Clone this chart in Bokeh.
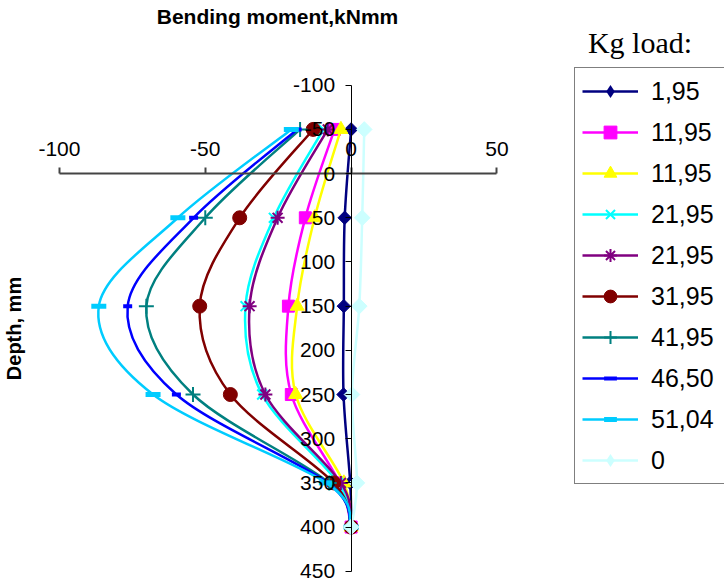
import numpy as np
from bokeh.plotting import figure
from bokeh.models import Range1d, FixedTicker, Legend, LegendItem, Label
from bokeh.embed import file_html
from bokeh.resources import INLINE

# ---------------- data ----------------
depth = [-50, 50, 150, 250, 350, 400]
series_labels = ["1,95", "11,95", "11,95", "21,95", "21,95",
                 "31,95", "41,95", "46,50", "51,04", "0"]
m_1_95 = [0.0, -2.2, -2.5, -2.6, -0.3, 0.0]
m_11_95a = [-5.7, -15.7, -21.5, -20.5, -4.0, 0.0]
m_11_95b = [-3.5, -12.5, -18.5, -19.0, -2.5, 0.0]
m_21_95a = [-9.5, -26.5, -36.2, -30.5, -4.5, 0.0]
m_21_95b = [-8.0, -25.2, -34.8, -29.4, -3.5, 0.0]
m_31_95 = [-13.0, -38.2, -51.9, -41.4, -6.0, 0.0]
m_41_95 = [-17.5, -50.0, -70.2, -54.2, -7.5, 0.0]
m_46_50 = [-18.5, -54.0, -76.6, -59.9, -8.0, 0.0]
m_51_04 = [-20.5, -59.4, -86.5, -67.9, -8.5, 0.0]
m_0 = [4.5, 3.8, 2.8, 0.3, 2.0, 0.0]
x_ticks = [-100, -50, 0, 50]
y_ticks = [-100, -50, 0, 50, 100, 150, 200, 250, 300, 350, 400, 450]

values = [m_1_95, m_11_95a, m_11_95b, m_21_95a, m_21_95b,
          m_31_95, m_41_95, m_46_50, m_51_04, m_0]
colors = ["#000080", "#FF00FF", "#FFFF00", "#00FFFF", "#800080",
          "#800000", "#008080", "#0000FF", "#00CCFF", "#CCFFFF"]
# (marker, size, line_width, angle)
mstyle = [("square", 9.5, 1, np.pi / 4),
          ("square", 12, 1, 0),
          ("triangle", 14, 1, 0),
          ("x", 14, 2, 0),
          ("asterisk", 14, 2, 0),
          ("circle", 14, 1, 0),
          ("cross", 15, 2, 0),
          ("dash", 9, 4, 0),
          ("dash", 15, 5, 0),
          ("square", 11, 1, np.pi / 4)]

W, H = 724, 581
XR = (-120.2, 128.0)
YR_TOP, YR_BOT = -195.9, 461.6


def xd(px):
    return XR[0] + px * (XR[1] - XR[0]) / W


def yd(py):
    return YR_TOP + py * (YR_BOT - YR_TOP) / H


p = figure(width=W, height=H, x_range=Range1d(*XR),
           y_range=Range1d(YR_BOT, YR_TOP),
           x_axis_location="above", y_axis_location="left",
           output_backend="svg", toolbar_location=None, min_border=0)
p.min_border_left = p.min_border_right = 0
p.min_border_top = p.min_border_bottom = 0
p.background_fill_color = "white"
p.border_fill_color = "white"
p.outline_line_color = None
p.xgrid.visible = False
p.ygrid.visible = False

xa = p.xaxis[0]
xa.fixed_location = 0
xa.bounds = (-100, 50)
xa.ticker = FixedTicker(ticks=x_ticks)
xa.major_label_overrides = {t: str(t) for t in x_ticks}
xa.major_tick_in = 0
xa.major_tick_out = 6
xa.minor_tick_line_color = None
xa.axis_line_color = "#444444"
xa.major_tick_line_color = "#444444"
xa.axis_line_width = 2
xa.major_tick_line_width = 2
xa.major_label_standoff = 12
xa.major_label_text_font = "Liberation Sans"
xa.major_label_text_font_size = "21px"
xa.major_label_text_color = "black"

ya = p.yaxis[0]
ya.fixed_location = 0
ya.bounds = (-100, 450)
ya.ticker = FixedTicker(ticks=y_ticks)
ya.major_label_overrides = {t: str(t) for t in y_ticks}
ya.major_tick_in = 0
ya.major_tick_out = 6
ya.minor_tick_line_color = None
ya.axis_line_color = "black"
ya.major_tick_line_color = "black"
ya.major_label_standoff = 10
ya.major_label_text_font = "Liberation Sans"
ya.major_label_text_font_size = "21px"
ya.major_label_text_color = "black"


def smooth_segments(xs, ys):
    pts = list(zip(xs, ys))
    ext = [pts[0]] + pts + [pts[-1]]
    out = {k: [] for k in ["x0", "y0", "x1", "y1", "cx0", "cy0", "cx1", "cy1"]}
    for i in range(len(pts) - 1):
        p0, p1, p2, p3 = ext[i], ext[i + 1], ext[i + 2], ext[i + 3]
        out["x0"].append(p1[0]); out["y0"].append(p1[1])
        out["x1"].append(p2[0]); out["y1"].append(p2[1])
        out["cx0"].append(p1[0] + (p2[0] - p0[0]) / 6)
        out["cy0"].append(p1[1] + (p2[1] - p0[1]) / 6)
        out["cx1"].append(p2[0] - (p3[0] - p1[0]) / 6)
        out["cy1"].append(p2[1] - (p3[1] - p1[1]) / 6)
    return out


items = []
for lab, vals, col, st in zip(series_labels, values, colors, mstyle):
    marker, size, lw, ang = st
    seg = smooth_segments(vals, depth)
    br = p.bezier(line_color=col, line_width=2.5, **seg)
    if ang != 0:
        # diamond shape (used for the legend), covered by the rotated square
        lr = p.scatter(vals, depth, marker="diamond", size=size * 1.35,
                       fill_color=col, line_color=col, line_width=0)
        p.scatter(vals, depth, marker=marker, size=size, angle=ang,
                  fill_color=col, line_color=col, line_width=lw)
    else:
        lr = p.scatter(vals, depth, marker=marker, size=size,
                       fill_color=col, line_color=col, line_width=lw)
    items.append(LegendItem(label=lab, renderers=[br, lr]))

legend = Legend(items=items, location=(574, 97), orientation="vertical",
                padding=7, spacing=9, margin=0,
                glyph_height=32, glyph_width=56, label_standoff=13,
                label_width=90, label_height=32,
                label_text_font="Liberation Sans", label_text_font_size="25px",
                label_text_color="black",
                border_line_color="black", border_line_width=1,
                background_fill_color="white", background_fill_alpha=1.0)
p.add_layout(legend)

p.add_layout(Label(x=xd(277), y=yd(15.5), text="Bending moment,kNmm",
                   text_align="center", text_baseline="middle",
                   text_font="Liberation Sans", text_font_style="bold",
                   text_font_size="21px", text_color="black"))
p.add_layout(Label(x=xd(639.5), y=yd(42), text="Kg load:",
                   text_align="center", text_baseline="middle",
                   text_font="Liberation Serif", text_font_size="30px",
                   text_color="black"))
p.add_layout(Label(x=xd(13), y=yd(328), text="Depth, mm", angle=np.pi / 2,
                   text_align="center", text_baseline="middle",
                   text_font="Liberation Sans", text_font_style="bold",
                   text_font_size="20px", text_color="black"))

open("out.html", "w").write(file_html(p, INLINE))
